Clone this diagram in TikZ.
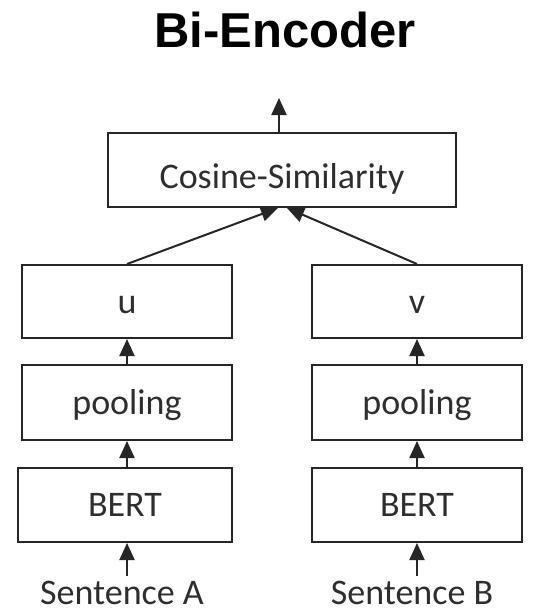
\documentclass[tikz,border=0pt]{standalone}
\usepackage{fontspec}
\setmainfont{Carlito}
\newfontfamily\titlefont{Liberation Sans}
\usetikzlibrary{arrows.meta}
\definecolor{boxline}{HTML}{262626}
\definecolor{txt}{HTML}{2E2E2E}
\begin{document}
\begin{tikzpicture}[x=1pt,y=-1pt,
  blk/.style={draw=boxline,line width=2pt,inner sep=0pt,text=txt,
    font=\fontsize{36}{42}\selectfont,text height=23pt,text depth=0pt},
  lbl/.style={inner sep=0pt,text=txt,font=\fontsize{36}{42}\selectfont,anchor=base},
  arr/.style={line width=2pt,draw=boxline,-{Triangle[length=17pt,width=15pt]}}]
\useasboundingbox (0,0) rectangle (541,613);
\node[anchor=base,inner sep=0pt,font=\titlefont\bfseries\fontsize{49}{56}\selectfont] (title) at (285,47) {Bi-Encoder};
\node[blk,minimum width=348pt,minimum height=74pt,text height=36pt] (cos) at (282,170) {Cosine-Similarity};
\node[blk,minimum width=210pt,minimum height=73pt] (u) at (127,301.5) {u};
\node[blk,minimum width=210pt,minimum height=75pt] (pl) at (127,402.5) {pooling};
\node[blk,minimum width=214pt,minimum height=74pt] (bl) at (125,505) {BERT};
\node[blk,minimum width=210pt,minimum height=73pt] (v) at (417,301.5) {v};
\node[blk,minimum width=210pt,minimum height=75pt] (pr) at (417,402.5) {pooling};
\node[blk,minimum width=210pt,minimum height=74pt] (br) at (417,505) {BERT};
\node[lbl] (sa) at (122,604) {Sentence A};
\node[lbl] (sb) at (412,604) {Sentence B};
\coordinate (out) at (279,98);
\coordinate (ta) at (127,576);
\coordinate (tb) at (417,576);
\draw[arr] (cos.north -| out) -- (out);
\draw[arr] (u.north) -- ([xshift=-4pt]cos.south);
\draw[arr] (v.north) -- ([xshift=5pt]cos.south);
\draw[arr] (pl.north) -- (u.south);
\draw[arr] (pr.north) -- (v.south);
\draw[arr] (bl.north -| pl) -- (pl.south);
\draw[arr] (br.north) -- (pr.south);
\draw[arr] (ta) -- (ta |- bl.south);
\draw[arr] (tb) -- (br.south);
\end{tikzpicture}
\end{document}
